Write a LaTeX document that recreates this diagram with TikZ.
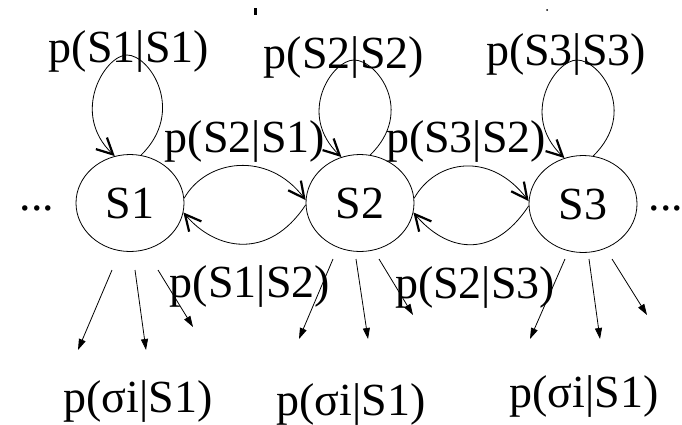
\documentclass[tikz,border=0pt]{standalone}
\usepackage{fontspec}
\setmainfont{Liberation Serif}
\usetikzlibrary{arrows.meta,shapes.geometric,calc}
\begin{document}
\begin{tikzpicture}[x=1pt,y=-1pt,
  lbl/.style={font=\fontsize{46}{50}\selectfont, inner sep=0pt, anchor=base},
  state/.style={draw, ellipse, minimum width=108pt, minimum height=97pt, inner sep=0pt, line width=0.8pt, font=\fontsize{46}{50}\selectfont},
  trans/.style={line width=0.8pt, -{Straight Barb[length=16pt,width=16pt,line width=2.2pt]}},
  emit/.style={line width=0.8pt, -{Triangle[length=11pt,width=7pt]}}]
\useasboundingbox (0,0) rectangle (682,424);

% states
\node[state] (s1) at (130,203) {S1};
\node[state] (s2) at (360,203) {S2};
\node[state] (s3) at (583,204) {S3};

% dots
\node[lbl] (dl) at (37,210) {...};
\node[lbl] (dr) at (666,210) {...};

% labels
\node[lbl] (l11) at (129,62) {p(S1|S1)};
\node[lbl] (l22) at (344,68) {p(S2|S2)};
\node[lbl] (l33) at (566,65) {p(S3|S3)};
\node[lbl] (l21) at (245,152) {p(S2|S1)};
\node[lbl] (l32) at (466,152) {p(S3|S2)};
\node[lbl] (l12) at (250,297) {p(S1|S2)};
\node[lbl] (l23) at (475,298) {p(S2|S3)};
\node[lbl] (e1) at (138,412) {p(σi|S1)};
\node[lbl] (e2) at (351,415) {p(σi|S1)};
\node[lbl] (e3) at (584,407) {p(σi|S1)};

% tiny marks
\fill (254,8) rectangle (257,15);
\fill (547,10) circle (1pt);

% self loops
\coordinate (t1) at (127,55);
\coordinate (t2) at (354,60);
\coordinate (t3) at (577,60);
\draw[trans] (s1.77) .. controls +(45,-44) and +(23,0) .. (t1) .. controls +(-22,0) and +(-45,-43) .. (s1.108);
\draw[trans] (s2.78) .. controls +(45,-44) and +(23,0) .. (t2) .. controls +(-22,0) and +(-45,-43) .. (s2.112);
\draw[trans] (s3.78) .. controls +(45,-44) and +(23,0) .. (t3) .. controls +(-22,0) and +(-45,-43) .. (s3.112);

% transitions between states
\draw[trans] (s1.5) .. controls +(22,-39) and +(-38,-50) .. (s2.177);
\draw[trans] (s2.182) .. controls +(-37,56) and +(32,38) .. (s1.-10);
\draw[trans] (s2.5) .. controls +(22,-39) and +(-38,-50) .. (s3.177);
\draw[trans] (s3.182) .. controls +(-37,56) and +(32,38) .. (s2.-10);

% emissions
\coordinate (a11) at (112,270); \coordinate (b11) at (78,350);
\coordinate (a12) at (135,270); \coordinate (b12) at (146,350);
\coordinate (a13) at (158,270); \coordinate (b13) at (193,327);
\coordinate (a21) at (333,259); \coordinate (b21) at (299,339);
\coordinate (a22) at (356,259); \coordinate (b22) at (368,339);
\coordinate (a23) at (379,259); \coordinate (b23) at (413,315);
\coordinate (a31) at (565,259); \coordinate (b31) at (530,339);
\coordinate (a32) at (589,259); \coordinate (b32) at (600,339);
\coordinate (a33) at (612,259); \coordinate (b33) at (647,315);
\foreach \i in {1,2,3}{\foreach \j in {1,2,3}{\draw[emit] (a\i\j) -- (b\i\j);}}
\end{tikzpicture}
\end{document}
